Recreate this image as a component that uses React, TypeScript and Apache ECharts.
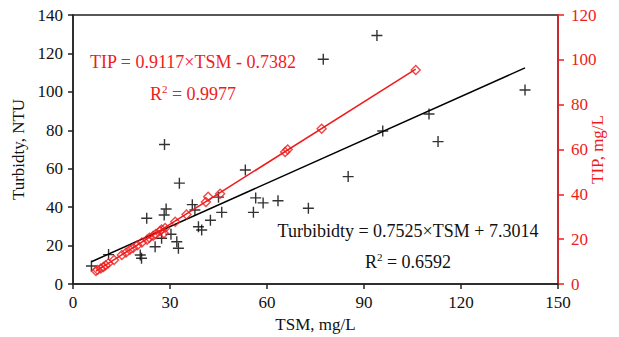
import React, { useEffect, useRef } from "react";
import * as echarts from "echarts";

const xTicks = [0, 30, 60, 90, 120, 150];
const leftTicks = [0, 20, 40, 60, 80, 100, 120, 140];
const rightTicks = [0, 20, 40, 60, 80, 100, 120];

const turbTSM = [5.7, 11.0, 20.8, 21.2, 22.8, 25.4, 27.4, 28.2, 28.3, 28.8, 30.3, 32.1, 32.6, 32.9, 36.9, 37.7, 38.8, 39.8, 42.5, 45.0, 46.0, 53.3, 55.8, 56.5, 58.8, 63.4, 72.8, 77.4, 85.1, 94.0, 95.8, 110.1, 112.9, 139.8];
const turbidity = [9.4, 15.3, 15.1, 13.4, 34.2, 19.4, 23.8, 35.9, 72.6, 39.0, 25.9, 22.0, 18.6, 52.5, 41.3, 38.5, 29.8, 28.1, 33.2, 45.2, 37.3, 59.3, 37.3, 44.8, 42.2, 43.3, 39.4, 117.0, 55.9, 129.3, 79.6, 88.5, 74.1, 101.0];

const tipTSM = [7.1, 7.6, 8.6, 9.4, 10.1, 10.9, 12.7, 15.1, 16.4, 17.6, 18.6, 19.9, 21.3, 22.9, 23.6, 24.8, 25.6, 26.9, 27.4, 28.1, 28.5, 31.6, 35.1, 41.1, 41.8, 45.5, 65.6, 66.4, 76.9, 106.0];
const tip = [5.8, 6.3, 6.9, 7.6, 8.4, 9.2, 10.7, 12.9, 14.0, 15.3, 16.1, 17.3, 18.5, 19.7, 20.6, 21.5, 22.3, 23.6, 24.3, 22.6, 25.0, 27.8, 31.0, 36.6, 38.9, 40.3, 58.9, 60.0, 69.3, 95.5];

const turbFit = { slope: 0.7525, intercept: 7.3014 };
const tipFit = { slope: 0.9117, intercept: -0.7382 };

const RED = "#ee1c1c";
const FONT = "Liberation Serif";

function fitLine(xs: number[], fit: { slope: number; intercept: number }) {
  const lo = Math.min(...xs);
  const hi = Math.max(...xs);
  return [lo, hi].map((x) => [x, fit.slope * x + fit.intercept]);
}

export default function App() {
  const ref = useRef<HTMLDivElement>(null);
  useEffect(() => {
    if (!ref.current) return;
    const chart = echarts.init(ref.current, null, { renderer: "svg" });
    const plus = "path://M0,5L10,5M5,0L5,10";
    chart.setOption({
      animation: false,
      textStyle: { fontFamily: FONT },
      grid: { left: 73, right: 61, top: 15, bottom: 53, show: true, borderColor: "#222", borderWidth: 1.5, backgroundColor: "transparent", outerBoundsMode: "none", containLabel: false },
      xAxis: {
        type: "value",
        min: xTicks[0],
        max: xTicks[xTicks.length - 1],
        interval: 30,
        name: "TSM, mg/L",
        nameLocation: "middle",
        nameGap: 29,
        nameTextStyle: { fontFamily: FONT, fontSize: 17, color: "#111" },
        axisLine: { lineStyle: { color: "#222", width: 1.5 } },
        axisTick: { inside: false, length: 5, lineStyle: { color: "#222", width: 1.5 } },
        axisLabel: { fontFamily: FONT, fontSize: 17, color: "#111", margin: 10 },
        splitLine: { show: false },
      },
      yAxis: [
        {
          type: "value",
          min: leftTicks[0],
          max: leftTicks[leftTicks.length - 1],
          interval: 20,
          position: "left",
          name: "Turbidty, NTU",
          nameLocation: "middle",
          nameGap: 44,
          nameRotate: 90,
          nameTextStyle: { fontFamily: FONT, fontSize: 17, color: "#111" },
          axisLine: { show: true, lineStyle: { color: "#222", width: 1.5 } },
          axisTick: { show: true, inside: false, length: 5, lineStyle: { color: "#222", width: 1.5 } },
          axisLabel: { fontFamily: FONT, fontSize: 17, color: "#111", margin: 10 },
          splitLine: { show: false },
        },
        {
          type: "value",
          min: rightTicks[0],
          max: rightTicks[rightTicks.length - 1],
          interval: 20,
          position: "right",
          name: "TIP, mg/L",
          nameLocation: "middle",
          nameGap: 31,
          nameRotate: 90,
          nameMoveOverlap: false,
          nameTextStyle: { fontFamily: FONT, fontSize: 17, color: RED },
          axisLine: { show: true, lineStyle: { color: RED, width: 1.5 } },
          axisTick: { show: true, inside: false, length: 6, lineStyle: { color: RED, width: 1.5 } },
          axisLabel: { fontFamily: FONT, fontSize: 17, color: RED, margin: 13 },
          splitLine: { show: false },
        },
      ],
      series: [
        {
          type: "line",
          yAxisIndex: 0,
          data: fitLine(turbTSM, turbFit),
          showSymbol: false,
          symbol: "none",
          lineStyle: { color: "#000", width: 1.5 },
          z: 2,
        },
        {
          type: "scatter",
          yAxisIndex: 0,
          data: turbTSM.map((x, i) => [x, turbidity[i]]),
          symbol: plus,
          symbolSize: 11,
          itemStyle: { color: "none", borderColor: "#000", borderWidth: 1.4 },
          z: 3,
        },
        {
          type: "line",
          yAxisIndex: 1,
          data: fitLine(tipTSM, tipFit),
          showSymbol: false,
          symbol: "none",
          lineStyle: { color: RED, width: 1.5 },
          z: 4,
        },
        {
          type: "scatter",
          yAxisIndex: 1,
          data: tipTSM.map((x, i) => [x, tip[i]]),
          symbol: "diamond",
          symbolSize: 9,
          itemStyle: { color: "none", borderColor: RED, borderWidth: 1.4 },
          z: 5,
        },
      ],
      graphic: [
        {
          type: "text",
          x: 193,
          y: 62,
          style: { text: "TIP = 0.9117×TSM - 0.7382", fill: RED, font: `18px "${FONT}"`, align: "center", verticalAlign: "middle" },
        },
        {
          type: "text",
          x: 193,
          y: 94,
          style: {
            text: "R{sup|2} = 0.9977",
            fill: RED,
            font: `18px "${FONT}"`,
            align: "center",
            verticalAlign: "middle",
            rich: { sup: { fontSize: 11, fontFamily: FONT, fill: RED, verticalAlign: "top", padding: [0, 0, 10, 0] } },
          },
        },
        {
          type: "text",
          x: 408,
          y: 231,
          style: { text: "Turbibidty = 0.7525×TSM + 7.3014", fill: "#111", font: `18px "${FONT}"`, align: "center", verticalAlign: "middle" },
        },
        {
          type: "text",
          x: 408,
          y: 262,
          style: {
            text: "R{sup|2} = 0.6592",
            fill: "#111",
            font: `18px "${FONT}"`,
            align: "center",
            verticalAlign: "middle",
            rich: { sup: { fontSize: 11, fontFamily: FONT, fill: "#111", verticalAlign: "top", padding: [0, 0, 10, 0] } },
          },
        },
      ],
    });
    return () => chart.dispose();
  }, []);
  return <div ref={ref} style={{ width: 619, height: 337, position: "absolute", left: 0, top: 0, background: "#fff" }} />;
}
